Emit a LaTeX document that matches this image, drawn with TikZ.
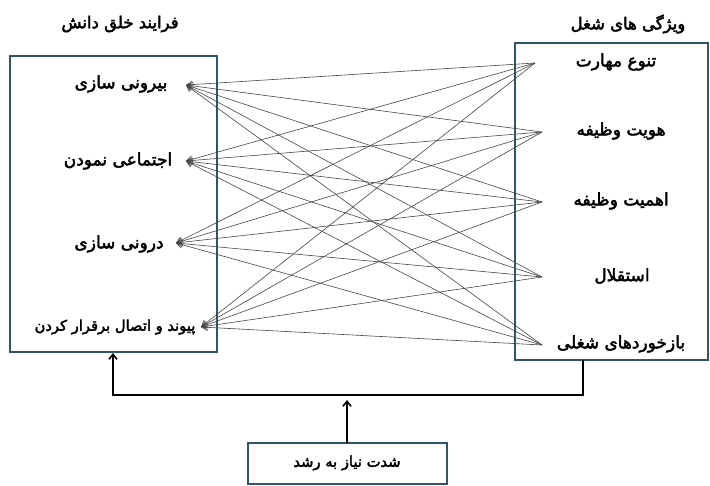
\documentclass[tikz,border=0pt]{standalone}
\usepackage{fontspec}
\newfontfamily\farsifont[Script=Arabic,FakeBold=2.6]{DejaVu Sans}
\TeXXeTstate=1
\definecolor{BoxEdge}{RGB}{48,84,104}
\definecolor{LinkGrey}{RGB}{70,70,70}
\usetikzlibrary{arrows.meta}

\begin{document}
\begin{tikzpicture}[x=1pt,y=-1pt,
    item/.style={font=\farsifont\fontsize{17}{19}\selectfont,inner sep=1pt},
    small item/.style={font=\farsifont\fontsize{14.7}{17}\selectfont,inner sep=1pt},
    heading/.style={font=\farsifont\fontsize{16.5}{19}\selectfont,inner sep=1pt},
    panel/.style={draw=BoxEdge,line width=1.2pt},
    link/.style={LinkGrey,line width=0.6pt,-{Straight Barb[length=6pt,width=7pt]}},
    feed/.style={black,line width=1.6pt,-{Straight Barb[length=5pt,width=8pt]}}]

  \useasboundingbox (0,0) rectangle (710,485);

  % boxes
  \draw[panel] (10,56) rectangle (217,352);
  \draw[panel] (515,43) rectangle (708,360);
  \draw[panel] (248,443) rectangle (447,484);

  % titles
  \node[heading] (knowtitle) at (120,24) {\beginR فرایند خلق دانش\endR};
  \node[heading] (jobtitle) at (628,24) {\beginR ویژگی های شغل\endR};

  % knowledge creation items
  \node[item] (L1) at (121,84) {\beginR بیرونی سازی\endR};
  \node[item] (L2) at (118,161) {\beginR اجتماعی نمودن\endR};
  \node[item] (L3) at (119,244) {\beginR درونی سازی\endR};
  \node[small item] (L4) at (115,327) {\beginR پیوند و اتصال برقرار کردن\endR};

  % job characteristics
  \node[item] (R1) at (616,62) {\beginR تنوع مهارت\endR};
  \node[item] (R2) at (621,131) {\beginR هویت وظیفه\endR};
  \node[item] (R3) at (621,201) {\beginR اهمیت وظیفه\endR};
  \node[item] (R4) at (622,276) {\beginR استقلال\endR};
  \node[item] (R5) at (621,344) {\beginR بازخوردهای شغلی\endR};

  \node[small item] (growth) at (347,463) {\beginR شدت نیاز به رشد\endR};

  % link ends
  \coordinate (l1) at (186,85);
  \coordinate (l2) at (186,161);
  \coordinate (l3) at (176,243);
  \coordinate (l4) at (201,327);
  \coordinate (r1) at (535,63);
  \coordinate (r2) at (542,132);
  \coordinate (r3) at (542,202);
  \coordinate (r4) at (542,277);
  \coordinate (r5) at (542,345);

  \foreach \i in {1,...,5}
    \foreach \j in {1,...,4}
      \draw[link] (r\i) -- (l\j);

  % moderator
  \coordinate (jobfoot) at (583,360);
  \coordinate (knowfoot) at (113,353);
  \coordinate (bend) at (347,400);
  \draw[feed] (jobfoot) -- (583,395) -- (113,395) -- (knowfoot);
  \draw[feed] (growth.north |- 443,443) -- (bend);

\end{tikzpicture}
\end{document}
